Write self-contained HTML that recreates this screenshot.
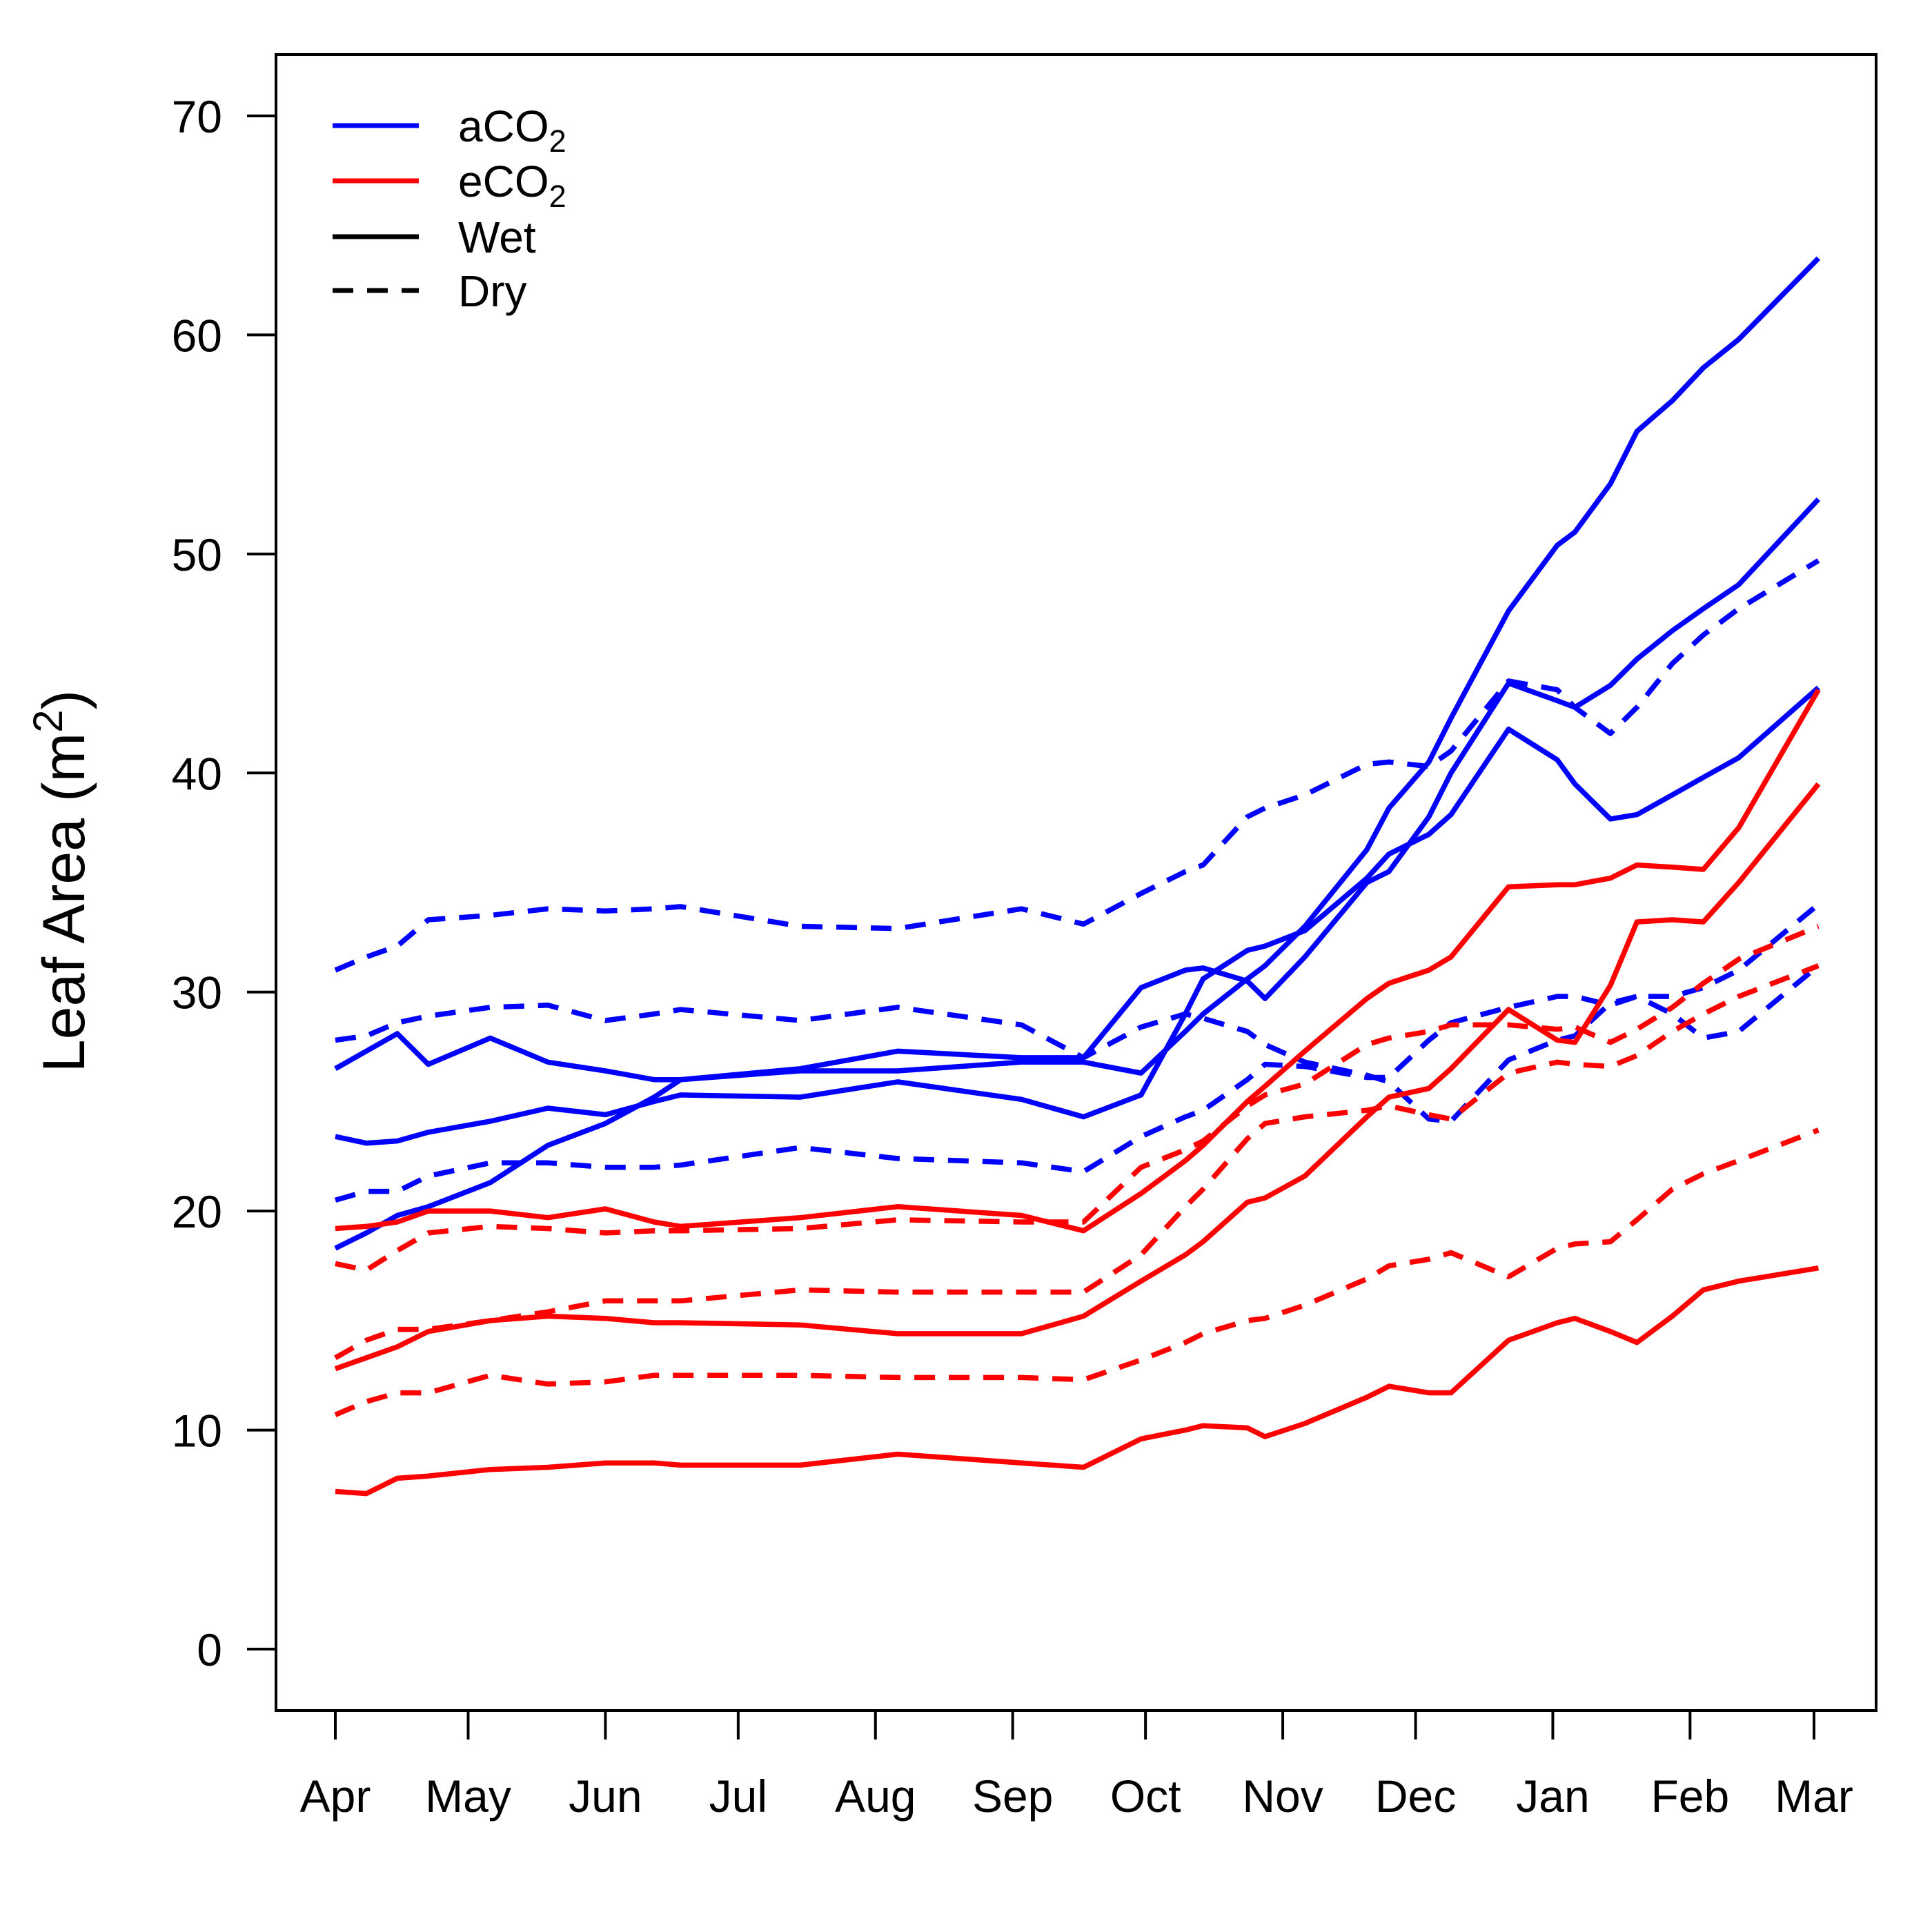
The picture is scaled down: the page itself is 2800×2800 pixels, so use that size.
<!DOCTYPE html>
<html><head><meta charset="utf-8"><style>
html,body{margin:0;padding:0;background:#fff}
svg{display:block;font-family:"Liberation Sans",Arial,sans-serif}
</style></head><body>
<svg id="chart" width="2800" height="2800" viewBox="0 0 2800 2800" xmlns="http://www.w3.org/2000/svg">
<rect x="0" y="0" width="2800" height="2800" fill="#fff"/>
<g id="lines"></g>
<rect x="400" y="79" width="2319" height="2400" fill="none" stroke="#000" stroke-width="4"/>
<g id="axes"></g>
<text x="0" y="0" transform="translate(122,1277) rotate(-90)" text-anchor="middle" font-size="86">Leaf Area  (m<tspan dy="-32" font-size="60">2</tspan><tspan dy="32">)</tspan></text>
<g>
<line x1="482" y1="182" x2="607" y2="182" stroke="#0000ff" stroke-width="7"/>
<text x="664" y="205" font-size="64">aCO<tspan dy="15" font-size="45">2</tspan></text>
<line x1="482" y1="262" x2="607" y2="262" stroke="#ff0000" stroke-width="7"/>
<text x="664" y="285" font-size="64">eCO<tspan dy="15" font-size="45">2</tspan></text>
<line x1="482" y1="343" x2="607" y2="343" stroke="#000" stroke-width="7"/>
<text x="664" y="366" font-size="64">Wet</text>
<line x1="482" y1="421" x2="607" y2="421" stroke="#000" stroke-width="7" stroke-dasharray="30,20"/>
<text x="664" y="444" font-size="64">Dry</text>
</g>
</svg>
<script>
const monthLabels=["Apr","May","Jun","Jul","Aug","Sep","Oct","Nov","Dec","Jan","Feb","Mar"];
const monthDays=[0,30,61,91,122,153,183,214,244,275,306,334];
const yTicks=[0,10,20,30,40,50,60,70];
const days=[0,7,14,21,35,48,61,72,78,105,127,155,169,182,192,196,206,210,219,233,238,247,252,265,276,280,288,294,302,309,317,335];
const aWetA=[26.5,27.3,28.1,26.7,27.9,26.8,26.4,26.0,26.0,26.4,26.4,26.8,26.8,26.3,28.2,29.0,30.6,31.2,33.0,36.5,38.4,40.5,42.5,47.4,50.4,51.0,53.2,55.6,57.0,58.5,59.8,63.5];
const aWetB=[23.4,23.1,23.2,23.6,24.1,24.7,24.4,25.0,25.3,25.2,25.9,25.1,24.3,25.3,29.0,30.6,31.9,32.1,32.8,35.2,36.3,37.2,38.1,42.0,40.6,39.5,37.9,38.1,39.0,39.8,40.7,43.9];
const aWetC=[18.3,19.0,19.8,20.2,21.3,23.0,24.0,25.2,26.0,26.5,27.3,27.0,27.0,30.2,31.0,31.1,30.5,29.7,31.6,35.0,35.5,38.0,40.0,44.1,43.3,43.0,44.0,45.2,46.5,47.5,48.6,52.5];
const aDryA=[31.0,31.6,32.1,33.3,33.5,33.8,33.7,33.8,33.9,33.0,32.9,33.8,33.1,34.5,35.5,35.8,38.0,38.4,39.0,40.4,40.5,40.3,41.0,44.2,43.8,43.0,41.8,43.0,45.0,46.3,47.5,49.7];
const aDryB=[27.8,28.0,28.6,28.9,29.3,29.4,28.7,29.0,29.2,28.7,29.3,28.5,27.0,28.4,29.0,28.8,28.2,27.6,26.8,26.2,25.9,24.2,24.1,26.9,27.8,28.0,29.5,29.8,29.0,27.9,28.2,31.2];
const aDryC=[20.5,20.9,20.9,21.6,22.2,22.2,22.0,22.0,22.1,22.9,22.4,22.2,21.8,23.4,24.3,24.6,26.0,26.7,26.6,26.1,26.1,27.8,28.6,29.3,29.8,29.8,29.4,29.8,29.8,30.2,31.0,34.0];
const eWetA=[19.2,19.3,19.5,20.0,20.0,19.7,20.1,19.5,19.3,19.7,20.2,19.8,19.1,20.8,22.3,23.0,25.0,25.7,27.3,29.7,30.4,31.0,31.6,34.8,34.9,34.9,35.2,35.8,35.7,35.6,37.5,43.8];
const eWetB=[12.8,13.3,13.8,14.5,15.0,15.2,15.1,14.9,14.9,14.8,14.4,14.4,15.2,16.8,18.0,18.6,20.4,20.6,21.6,24.3,25.2,25.6,26.5,29.2,27.8,27.7,30.3,33.2,33.3,33.2,35.0,39.5];
const eWetC=[7.2,7.1,7.8,7.9,8.2,8.3,8.5,8.5,8.4,8.4,8.9,8.5,8.3,9.6,10.0,10.2,10.1,9.7,10.3,11.5,12.0,11.7,11.7,14.1,14.9,15.1,14.5,14.0,15.2,16.4,16.8,17.4];
const eDryA=[17.6,17.3,18.2,19.0,19.3,19.2,19.0,19.1,19.1,19.2,19.6,19.5,19.5,22.0,22.8,23.2,24.8,25.3,25.8,27.6,27.9,28.2,28.5,28.5,28.3,28.4,27.7,28.3,29.3,30.4,31.5,33.0];
const eDryB=[13.3,14.1,14.6,14.6,15.0,15.4,15.9,15.9,15.9,16.4,16.3,16.3,16.3,18.0,20.2,21.0,23.3,24.0,24.3,24.6,24.8,24.4,24.2,26.3,26.8,26.7,26.6,27.1,28.2,29.0,29.8,31.2];
const eDryC=[10.7,11.3,11.7,11.7,12.5,12.1,12.2,12.5,12.5,12.5,12.4,12.4,12.3,13.2,14.0,14.4,15.0,15.1,15.7,16.9,17.5,17.8,18.1,17.0,18.3,18.5,18.6,19.6,21.0,21.7,22.3,23.7];

const NS="http://www.w3.org/2000/svg";
function xs(d){return 486+d*(2629-486)/334;}
function ys(v){return 2390-v*(2390-168)/70;}
const seriesList=[
 [aWetA,"#0000ff",false,"aco2-wet-1"],[aWetB,"#0000ff",false,"aco2-wet-2"],[aWetC,"#0000ff",false,"aco2-wet-3"],
 [aDryA,"#0000ff",true,"aco2-dry-1"],[aDryB,"#0000ff",true,"aco2-dry-2"],[aDryC,"#0000ff",true,"aco2-dry-3"],
 [eWetA,"#ff0000",false,"eco2-wet-1"],[eWetB,"#ff0000",false,"eco2-wet-2"],[eWetC,"#ff0000",false,"eco2-wet-3"],
 [eDryA,"#ff0000",true,"eco2-dry-1"],[eDryB,"#ff0000",true,"eco2-dry-2"],[eDryC,"#ff0000",true,"eco2-dry-3"]];
const g=document.getElementById("lines");
seriesList.forEach(s=>{
 const p=document.createElementNS(NS,"polyline");
 p.setAttribute("points",s[0].map((v,i)=>xs(days[i]).toFixed(1)+","+ys(v).toFixed(1)).join(" "));
 p.setAttribute("fill","none");p.setAttribute("stroke",s[1]);p.setAttribute("stroke-width","7.5");
 p.setAttribute("stroke-linejoin","round");
 if(s[2])p.setAttribute("stroke-dasharray","30,20");
 
 
 g.appendChild(p);
});
const ax=document.getElementById("axes");
monthDays.forEach((d,i)=>{
 const x=xs(d);
 const l=document.createElementNS(NS,"line");
 l.setAttribute("x1",x);l.setAttribute("x2",x);l.setAttribute("y1",2479);l.setAttribute("y2",2521);
 l.setAttribute("stroke","#000");l.setAttribute("stroke-width","4");
 
 
 ax.appendChild(l);
 const t=document.createElementNS(NS,"text");
 t.setAttribute("x",x);t.setAttribute("y",2626);t.setAttribute("text-anchor","middle");t.setAttribute("font-size","66");
 t.textContent=monthLabels[i];
 
 
 ax.appendChild(t);
});
yTicks.forEach(v=>{
 const y=ys(v);
 const l=document.createElementNS(NS,"line");
 l.setAttribute("x1",358);l.setAttribute("x2",400);l.setAttribute("y1",y);l.setAttribute("y2",y);
 l.setAttribute("stroke","#000");l.setAttribute("stroke-width","4");
 
 
 ax.appendChild(l);
 const t=document.createElementNS(NS,"text");
 t.setAttribute("x",322);t.setAttribute("y",y+24);t.setAttribute("text-anchor","end");t.setAttribute("font-size","66");
 t.textContent=v;
 
 
 ax.appendChild(t);
});
</script>
</body></html>
